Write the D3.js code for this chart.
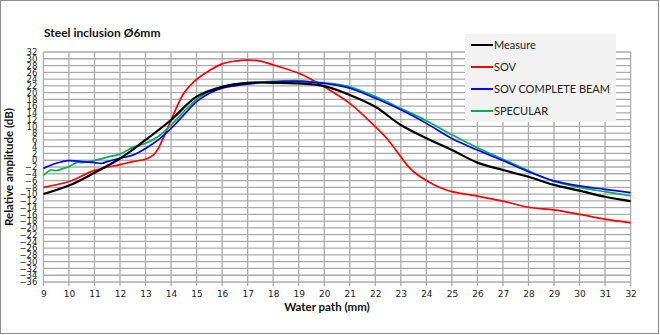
<!DOCTYPE html>
<html><head><meta charset="utf-8">
<script src="https://cdn.jsdelivr.net/npm/d3@7/dist/d3.min.js"></script>
<style>body{margin:0;background:#fff}svg{display:block}</style>
</head><body>
<script>
const measureX = [9,10,11,12,13,14,15,16,17,18,19,20,21,22,23,24,25,26,27,28,29,30,31,32];
const measure = [-10,-7.5,-3.7,0.5,6,11.9,18.8,21.7,22.9,22.9,22.7,21.9,19.3,15.8,10.4,6.5,3.0,-0.7,-2.9,-4.9,-7.3,-9.0,-10.8,-12.1];
const sovX = [9,10,11,12,12.5,13,13.3,13.5,14,14.5,15,15.5,16,16.5,17,17.5,18,19,19.5,20,21,22,22.5,23,23.3,23.5,24,24.5,25,26,27,28,29,30,31,32];
const sov = [-8,-6.3,-3.0,-1.3,-0.4,0.3,1.5,3.5,11.9,19.8,23.9,26.5,28.5,29.3,29.6,29.3,28.2,25.7,23.9,21.7,16.8,9.9,6.0,1.0,-1.9,-3.4,-6.0,-8.0,-9.3,-10.6,-12.1,-13.9,-14.7,-16.0,-17.4,-18.5];
const beamX = [9,9.5,10,10.5,11,11.3,11.5,12,12.5,13,13.5,14,14.5,15,15.5,16,16.5,17,18,19,20,21,22,23,24,25,26,27,28,29,30,31,32];
const beam = [-2.4,-0.9,-0.1,-0.4,-0.7,-0.9,-0.4,0.6,1.5,3.5,6.0,9.4,13.4,17.3,19.8,21.3,22.0,22.5,23.2,23.3,22.7,21.3,18.3,14.9,10.9,6.4,3.0,-0.1,-3.4,-6.1,-7.6,-8.6,-9.6];
const specX = [9,9.3,9.5,9.8,10,10.3,10.5,10.8,11,11.5,12,12.5,13,13.5,14,14.5,15,15.5,16,16.5,17,18,19,20,21,22,23,24,25,26,27,28,29,30,31,32];
const spec = [-4.4,-2.9,-3.1,-2.4,-1.9,-0.7,-0.7,-0.4,-0.1,0.9,1.8,3.8,5.0,7.0,10.4,14.4,18.0,20.3,21.7,22.5,22.9,23.3,23.5,22.9,21.7,18.8,15.3,11.7,7.5,3.7,0.3,-3.1,-6.3,-8.0,-9.3,-10.5];
const xTicks = d3.range(9,33,1);
const yTicks = d3.range(-36,33,2);
const seriesNames = ["Measure","SOV","SOV COMPLETE BEAM","SPECULAR"];
const seriesColors = ["#000000","#ff0000","#0000ff","#00b050"];

const W=660,H=335;
const svg=d3.select("body").append("svg").attr("width",W).attr("height",H);
svg.append("rect").attr("x",0.5).attr("y",0.5).attr("width",W-2).attr("height",H-2)
  .attr("fill","#fff").attr("stroke","#8c8c8c");
const x=d3.scaleLinear().domain([9,32]).range([43.4,630.6]);
const y=d3.scaleLinear().domain([-36,32]).range([282,52]);
const font="Lato, 'Open Sans', sans-serif";

const g=svg.append("g");
g.selectAll(".hg").data(yTicks).join("line")
  .attr("x1",x(9)).attr("x2",x(32)).attr("y1",d=>y(d)).attr("y2",d=>y(d))
  .attr("stroke","#ababab").attr("stroke-width",1.3);
g.selectAll(".vg").data(xTicks).join("line")
  .attr("x1",d=>x(d)).attr("x2",d=>x(d)).attr("y1",y(32)).attr("y2",y(-36)+4)
  .attr("stroke","#ababab").attr("stroke-width",1.3);

const xa=svg.append("g").attr("transform",`translate(0,${y(-36)})`).call(d3.axisBottom(x).tickValues(xTicks).tickSize(0).tickPadding(9).tickFormat(d3.format("d")));
xa.select(".domain").remove();
xa.selectAll("text").attr("font-family","Tahoma, 'DejaVu Sans', sans-serif").attr("font-size",9).attr("fill","#222");
const ya=svg.append("g").attr("transform",`translate(${x(9)},0)`).call(d3.axisLeft(y).tickValues(yTicks).tickSize(0).tickPadding(6).tickFormat(d3.format("d")));
ya.select(".domain").remove();
ya.selectAll("text").attr("font-family","Tahoma, 'DejaVu Sans', sans-serif").attr("font-size",8.5).attr("fill","#222");

svg.append("text").attr("x",44).attr("y",37).attr("font-family",font).attr("font-weight","bold")
  .attr("font-size",12).attr("fill","#111").text("Steel inclusion Ø6mm");
svg.append("text").attr("x",327).attr("y",311).attr("text-anchor","middle").attr("font-family",font)
  .attr("font-weight","bold").attr("font-size",11.5).attr("fill","#111").text("Water path (mm)");
svg.append("text").attr("transform","translate(13,167) rotate(-90)").attr("text-anchor","middle")
  .attr("font-family",font).attr("font-weight","bold").attr("font-size",11.5).attr("fill","#111").text("Relative amplitude (dB)");

const line=d3.line().x(d=>x(d[0])).y(d=>y(d[1])).curve(d3.curveCatmullRom.alpha(0.5));
const data=[[measureX,measure],[sovX,sov],[beamX,beam],[specX,spec]];
[1,3,2,0].forEach(i=>{
  const [xs,ys]=data[i];
  svg.append("path").datum(xs.map((v,k)=>[v,ys[k]])).attr("d",line).attr("fill","none")
    .attr("stroke",seriesColors[i]).attr("stroke-width",i===0?2.2:1.7);
});

const lg=svg.append("g");
lg.append("rect").attr("x",465).attr("y",34).attr("width",151).attr("height",88).attr("fill","#f2f2f2");
seriesNames.forEach((n,i)=>{
  const yy=45+i*22;
  lg.append("line").attr("x1",471).attr("x2",493).attr("y1",yy).attr("y2",yy).attr("stroke",seriesColors[i]).attr("stroke-width",2);
  lg.append("text").attr("x",494).attr("y",yy+4).attr("font-family",font).attr("font-size",11).attr("fill","#222").text(n);
});
</script>
</body></html>
